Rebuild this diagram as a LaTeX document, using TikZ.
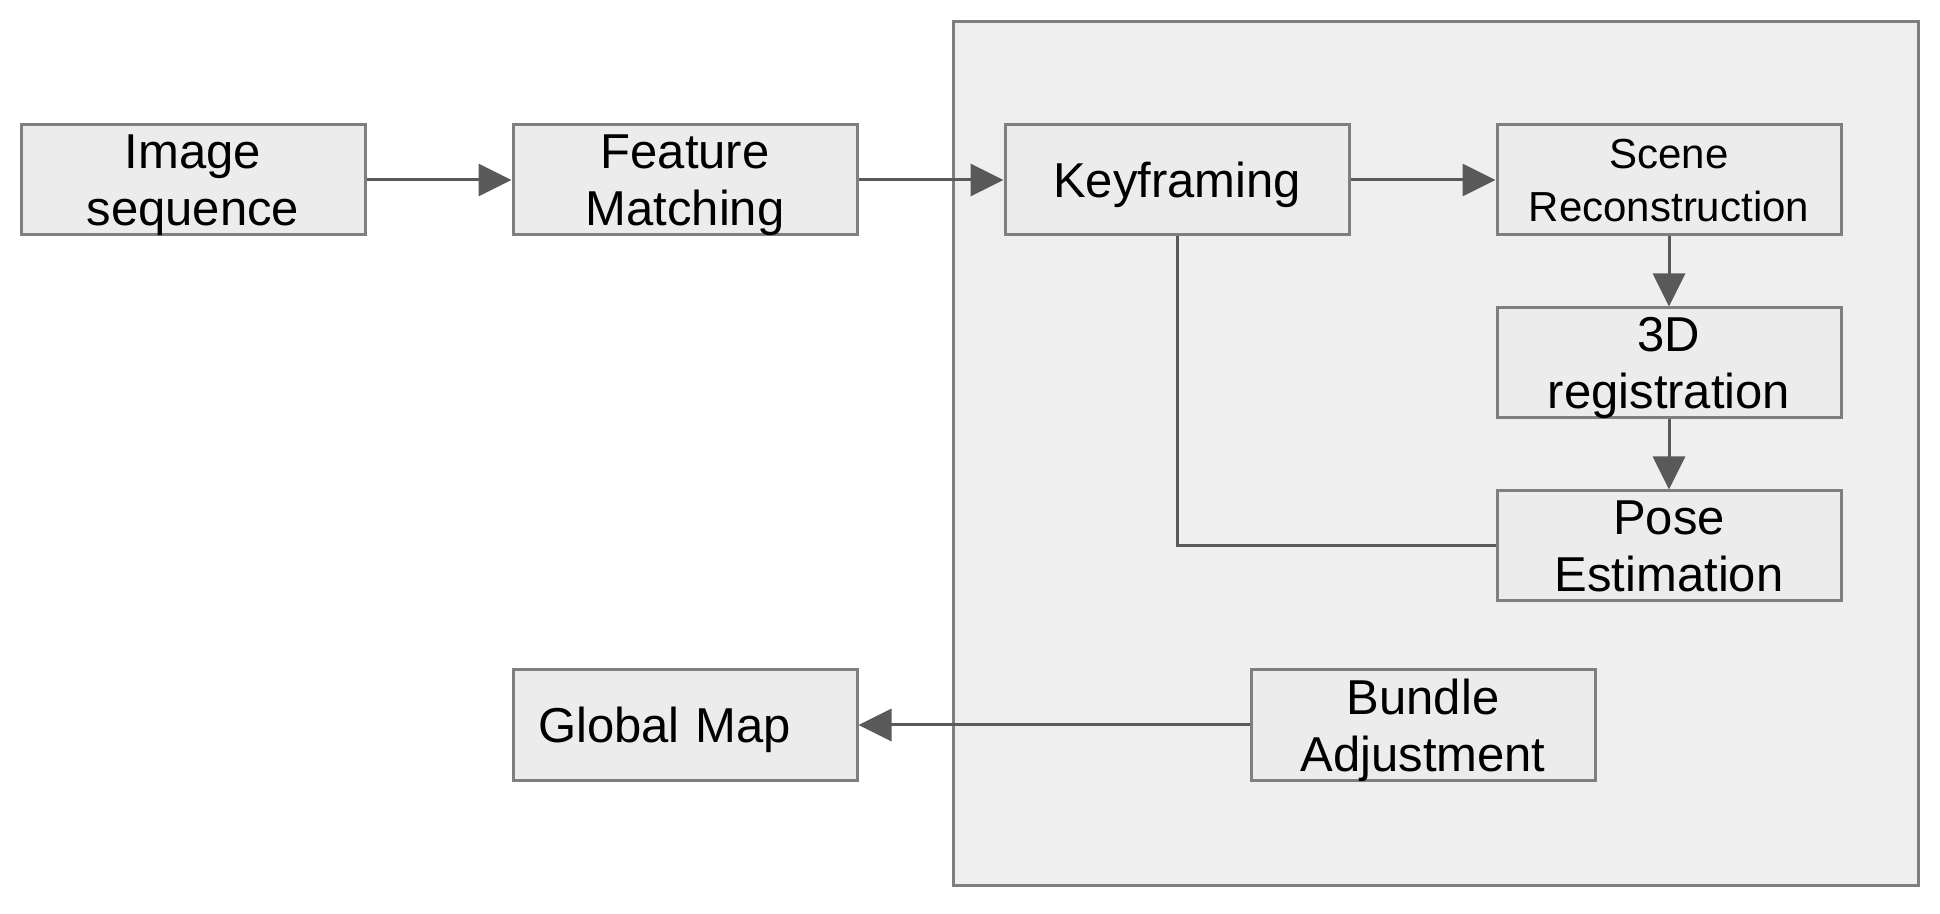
\documentclass[tikz,border=0pt]{standalone}
\usepackage{fontspec}
\setmainfont{Liberation Sans}
\usetikzlibrary{positioning, arrows.meta}
\definecolor{boxgray}{HTML}{ECECEC}
\definecolor{panelgray}{HTML}{EFEFEF}
\definecolor{framegray}{HTML}{7F7F7F}
\definecolor{arrowgray}{HTML}{595959}

\begin{document}
\begin{tikzpicture}[
    x = 1pt, y = 1pt,
    node distance = 70pt and 145pt,
    block/.style = {
        draw=framegray, fill=boxgray, line width=3pt, rectangle,
        minimum width=344pt, minimum height=110pt, align=center,
        text depth=0pt, font=\fontsize{49pt}{57pt}\selectfont
    },
    link/.style = {draw=arrowgray, line width=3pt, -{Triangle[length=33pt, width=32pt]}}
  ]
    \useasboundingbox (0,0) rectangle (1940,913);
    \draw[draw=framegray, fill=panelgray, line width=3pt] (953,28) rectangle (1918,891);  % 外框
    \node[block] (img) at (193,733) {Image\\sequence};  % 输入
    \node[block, right=of img] (feat) {Feature\\Matching};
    \node[block, right=of feat] (key) {Keyframing};
    \node[block, right=of key, font=\fontsize{42pt}{53pt}\selectfont] (scene) {Scene\\Reconstruction};
    \node[block, below=of scene] (reg) {3D\\registration};
    \node[block, below=of reg] (pose) {Pose\\Estimation};
    \node[block, align=left, text width=294pt, inner xsep=25pt] (gmap) at (685,188) {Global Map};  % 输出
    \node[block] (bundle) at (1423,188) {Bundle\\Adjustment};

    \foreach \a/\b in {img/feat, feat/key, key/scene, scene/reg, reg/pose, bundle/gmap}
        \draw[link] (\a) -- (\b);
    \draw[draw=arrowgray, line width=3pt] (key) |- (pose);  % 无箭头
\end{tikzpicture}
\end{document}
